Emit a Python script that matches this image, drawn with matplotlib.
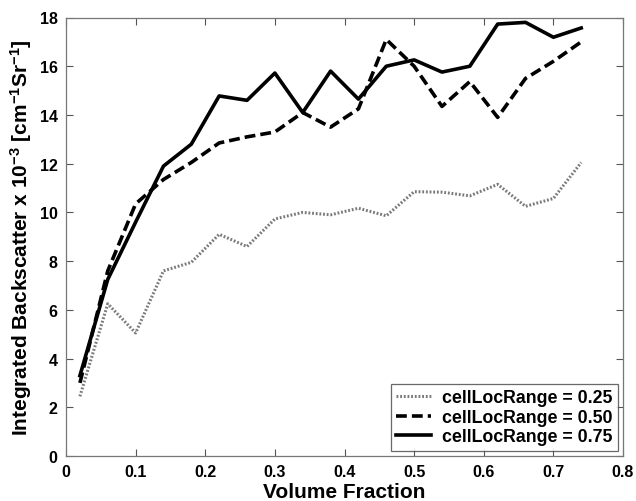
import matplotlib
matplotlib.use("Agg")
import matplotlib.pyplot as plt

plt.rcParams['font.family'] = ['Liberation Sans', 'DejaVu Sans']
plt.rcParams['font.weight'] = 'bold'
plt.rcParams['mathtext.fontset'] = 'custom'
plt.rcParams['mathtext.rm'] = 'Liberation Sans:bold'
plt.rcParams['mathtext.default'] = 'rm'

volume_fraction = [0.02, 0.06, 0.10, 0.14, 0.18, 0.22, 0.26, 0.30, 0.34, 0.38,
                   0.42, 0.46, 0.50, 0.54, 0.58, 0.62, 0.66, 0.70, 0.74]
range_025 = [2.45, 6.25, 5.05, 7.6, 7.95, 9.1, 8.6, 9.73, 10.0, 9.9,
             10.17, 9.86, 10.85, 10.83, 10.68, 11.15, 10.25, 10.57, 12.05]
range_050 = [3.0, 7.6, 10.35, 11.35, 12.05, 12.85, 13.1, 13.3, 14.1, 13.5,
             14.25, 17.1, 16.0, 14.35, 15.37, 13.9, 15.5, 16.2, 17.0]
range_075 = [3.3, 7.25, 9.6, 11.9, 12.8, 14.78, 14.6, 15.72, 14.1, 15.8,
             14.65, 16.0, 16.26, 15.76, 16.0, 17.73, 17.8, 17.19, 17.57]
labels = ['cellLocRange = 0.25', 'cellLocRange = 0.50', 'cellLocRange = 0.75']
x_ticks = [0, 0.1, 0.2, 0.3, 0.4, 0.5, 0.6, 0.7, 0.8]
y_ticks = [0, 2, 4, 6, 8, 10, 12, 14, 16, 18]

fig = plt.figure(figsize=(6.36, 5.02), dpi=100)
ax = fig.add_axes([66/636, 45/502, 557/636, 438.5/502])

ax.plot(volume_fraction, range_025, color='#7a7a7a', lw=2.2,
        linestyle=(0, (0.6, 0.6)), label=labels[0])
ax.plot(volume_fraction, range_050, color='black', lw=2.6,
        linestyle=(0, (3, 1.4)), label=labels[1])
ax.plot(volume_fraction, range_075, color='black', lw=2.6,
        linestyle='-', label=labels[2])

ax.set_xlim(0, 0.8)
ax.set_ylim(0, 18)
ax.set_xticks(x_ticks)
ax.set_yticks(y_ticks)
ax.set_xticklabels([f'{t:g}' for t in x_ticks])
ax.set_yticklabels([str(t) for t in y_ticks])
ax.tick_params(direction='in', top=True, right=True, labelsize=11.5,
               length=5, width=0.8, color='#555555', pad=6)
for s in ax.spines.values():
    s.set_color('#777777')
    s.set_linewidth(0.9)

ax.set_xlabel('Volume Fraction', fontsize=15, fontweight='bold', labelpad=2)
ax.set_ylabel('Integrated Backscatter x 10$^{-3}$ [cm$^{-1}$Sr$^{-1}$]',
              fontsize=15, fontweight='bold', labelpad=4)

leg = ax.legend(loc='lower right', bbox_to_anchor=(0.991, 0.012), fontsize=12.8,
                frameon=True, fancybox=False, edgecolor='#444444',
                handlelength=2.0, handletextpad=0.6, borderpad=0.3,
                labelspacing=0.15, borderaxespad=0.0)
leg.get_frame().set_linewidth(0.9)

fig.savefig('out.png', dpi=100)
